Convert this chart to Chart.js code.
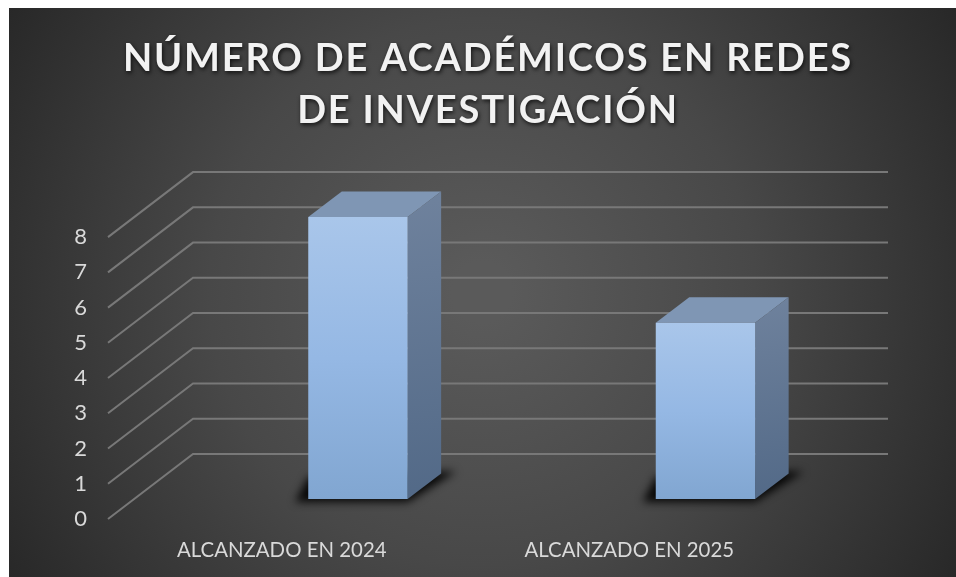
<!DOCTYPE html>
<html><head><meta charset="utf-8">
<style>html,body{margin:0;padding:0;background:#fff}#w{width:956px;height:577px}</style>
<script src="https://cdn.jsdelivr.net/npm/chart.js@4"></script>
</head><body><div id="w"><canvas id="c" width="956" height="577"></canvas></div>
<script>
const titleLines = ['NÚMERO DE ACADÉMICOS EN REDES', 'DE INVESTIGACIÓN'];
const categories = ['ALCANZADO EN 2024', 'ALCANZADO EN 2025'];
const seriesValues = [8, 5];
const yTicks = [0, 1, 2, 3, 4, 5, 6, 7, 8];

const WALL = {dx: 85, dy: -65};      // front plane to back wall
const BAR_SHIFT = {dx: 76.2, dy: -20}; // front plane to bar row
const BAR_DEPTH = {dx: 33.5, dy: -25.5};

const view3d = {
  id: 'view3d',
  beforeDraw(chart) {
    const c = chart.ctx;
    c.save();
    c.fillStyle = '#fff';
    c.fillRect(0, 0, chart.width, chart.height);
    const g = c.createRadialGradient(482, 292, 30, 482, 292, 570);
    g.addColorStop(0, '#5a5a5a');
    g.addColorStop(0.45, '#484848');
    g.addColorStop(1, '#262626');
    c.fillStyle = g;
    c.fillRect(9, 8, 947, 569);
    c.restore();
  },
  afterLayout(chart) {
    const t = chart.titleBlock;
    if (t._wrapped) return;
    t._wrapped = true;
    const orig = t.draw.bind(t);
    t.draw = function () {
      const c = chart.ctx;
      c.save();
      c.translate(488 - (t.left + t.right) / 2, 0);
      c.letterSpacing = '1.8px';
      c.shadowColor = 'rgba(0,0,0,0.75)';
      c.shadowBlur = 4;
      c.shadowOffsetX = 1;
      c.shadowOffsetY = 2;
      orig();
      c.restore();
    };
  },
  beforeDatasetsDraw(chart) {
    const c = chart.ctx, y = chart.scales.y, a = chart.chartArea;
    c.save();
    c.strokeStyle = '#787878';
    c.lineWidth = 2;
    y.ticks.forEach(t => {
      const p = y.getPixelForValue(t.value);
      c.beginPath();
      c.moveTo(a.left, p);
      c.lineTo(a.left + WALL.dx, p + WALL.dy);
      c.lineTo(a.right + WALL.dx, p + WALL.dy);
      c.stroke();
    });
    c.restore();
    c.save();
    c.translate(BAR_SHIFT.dx, BAR_SHIFT.dy);
    const meta = chart.getDatasetMeta(0);
    meta.data.forEach(b => {
      const l = b.x - b.width / 2, r = b.x + b.width / 2, top = b.y, bot = b.base;
      const dx = BAR_DEPTH.dx, dy = BAR_DEPTH.dy;
      // floor shadow
      c.save();
      c.filter = 'blur(4px)';
      c.fillStyle = 'rgba(0,0,0,0.9)';
      c.beginPath();
      c.moveTo(l - 13, bot + 3);
      c.lineTo(r, bot + 3);
      c.lineTo(r + dx + 15, bot + dy - 2);
      c.lineTo(r + dx - 10, bot + dy - 2);
      c.lineTo(l, bot - 22);
      c.closePath();
      c.fill();
      c.restore();
      // top face
      c.fillStyle = '#7f96b4';
      c.beginPath();
      c.moveTo(l, top); c.lineTo(r, top); c.lineTo(r + dx, top + dy); c.lineTo(l + dx, top + dy);
      c.closePath(); c.fill();
      // side face
      const g = c.createLinearGradient(r, top + dy, r + dx, bot);
      g.addColorStop(0, '#6f829d');
      g.addColorStop(1, '#526987');
      c.fillStyle = g;
      c.beginPath();
      c.moveTo(r, top); c.lineTo(r + dx, top + dy); c.lineTo(r + dx, bot + dy); c.lineTo(r, bot);
      c.closePath(); c.fill();
    });
    // kept translated for the bars themselves
  },
  afterDatasetsDraw(chart) {
    chart.ctx.restore();
  }
};

function frontFill(ctx) {
  const chart = ctx.chart, y = chart.scales.y;
  if (!chart.chartArea || !y || ctx.raw === undefined) return '#9bbce6';
  const g = chart.ctx.createLinearGradient(0, y.getPixelForValue(ctx.raw), 0, y.getPixelForValue(0));
  g.addColorStop(0, '#a9c6ea');
  g.addColorStop(0.5, '#95b8e4');
  g.addColorStop(1, '#81a6d1');
  return g;
}

new Chart(document.getElementById('c'), {
  type: 'bar',
  data: {labels: categories, datasets: [{data: seriesValues, backgroundColor: frontFill,
    borderWidth: 0, barPercentage: 0.286, categoryPercentage: 1}]},
  plugins: [view3d],
  options: {
    responsive: false,
    animation: false,
    clip: false,
    layout: {padding: {left: 0, right: 153, top: 0, bottom: 0}},
    plugins: {
      legend: {display: false},
      tooltip: {enabled: false},
      title: {display: true, text: titleLines, color: '#f2f2f2',
        font: {family: 'Lato', size: 38, weight: 'bold', lineHeight: 1.37},
        padding: {top: 33, bottom: 100}}
    },
    scales: {
      x: {
        grid: {display: false}, border: {display: false},
        ticks: {color: '#d9d9d9', font: {family: 'Lato', size: 20.4}, padding: 11, maxRotation: 0},
        afterFit(s) { s.height = 58; }
      },
      y: {
        min: 0, max: 8,
        grid: {display: false, drawTicks: false}, border: {display: false},
        afterBuildTicks(s) { s.ticks = yTicks.map(v => ({value: v})); },
        ticks: {color: '#d9d9d9', font: {family: 'Lato', size: 22}, padding: 21},
        afterFit(s) { s.width = 108; }
      }
    }
  }
});
</script></body></html>
